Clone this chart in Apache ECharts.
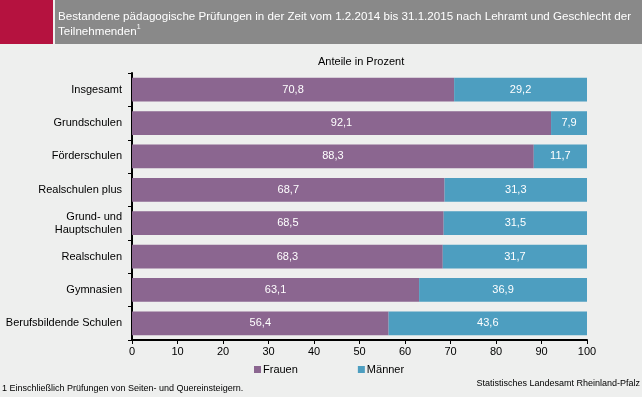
<!DOCTYPE html>
<html>
<head>
<meta charset="utf-8">
<script src="https://cdn.jsdelivr.net/npm/echarts@6/dist/echarts.min.js"></script>
<style>
  html, body { margin: 0; padding: 0; background: #eeefee; }
  #chart { width: 642px; height: 397px; }
</style>
</head>
<body>
<div id="chart"></div>
<script>
const categories = [
  "Insgesamt",
  "Grundschulen",
  "Förderschulen",
  "Realschulen plus",
  "Grund- und\nHauptschulen",
  "Realschulen",
  "Gymnasien",
  "Berufsbildende Schulen"
];
const frauen = [70.8, 92.1, 88.3, 68.7, 68.5, 68.3, 63.1, 56.4];
const maenner = [29.2, 7.9, 11.7, 31.3, 31.5, 31.7, 36.9, 43.6];

const font = "Liberation Sans, Arial, sans-serif";
const chart = echarts.init(document.getElementById("chart"));

const fmt = (p) => p.value.toFixed(1).replace(".", ",");

chart.setOption({
  backgroundColor: "#eeefee",
  animation: false,
  textStyle: { fontFamily: font },
  graphic: [
    { type: "rect", shape: { x: 0, y: 0, width: 642, height: 44 }, style: { fill: "#898989" } },
    { type: "rect", shape: { x: 0, y: 0, width: 53, height: 44 }, style: { fill: "#b5123f" } },
    { type: "rect", shape: { x: 53, y: 0, width: 2, height: 44 }, style: { fill: "#eeefee" } },
    {
      type: "text", left: 58, top: 9,
      style: {
        text: "Bestandene pädagogische Prüfungen in der Zeit vom 1.2.2014 bis 31.1.2015 nach Lehramt und Geschlecht der\nTeilnehmenden{s|1}",
        fill: "#ffffff", font: "11.6px " + font, lineHeight: 15,
        rich: { s: { fontSize: 7, verticalAlign: "top", fill: "#ffffff", padding: [0, 0, 6, 0] } }
      }
    },
    {
      type: "text", left: 318, top: 56,
      style: { text: "Anteile in Prozent", fill: "#000", font: "11px " + font, textAlign: "center" }
    },
    {
      type: "text", left: 2, top: 384,
      style: { text: "1 Einschließlich Prüfungen von Seiten- und Quereinsteigern.", fill: "#000", font: "9px " + font }
    },
    {
      type: "text", right: 2, top: 379,
      style: { text: "Statistisches Landesamt Rheinland-Pfalz", fill: "#000", font: "9px " + font, textAlign: "right" }
    }
  ],
  legend: {
    top: 359, left: 249,
    itemGap: 60,
    itemWidth: 7, itemHeight: 7,
    icon: "rect",
    textStyle: { fontSize: 11, color: "#000", fontFamily: font, padding: [0, 0, 0, -3] },
    data: ["Frauen", "Männer"]
  },
  grid: { left: 132, right: 55, top: 73, bottom: 57, containLabel: false },
  xAxis: {
    type: "value",
    min: 0, max: 100, interval: 10,
    axisLine: { show: true, lineStyle: { color: "#000", width: 2 } },
    axisTick: { show: true, length: 4, lineStyle: { color: "#000" } },
    axisLabel: { color: "#000", fontSize: 11, margin: 6, fontFamily: font },
    splitLine: { show: false }
  },
  yAxis: {
    type: "category",
    inverse: true,
    data: categories,
    axisLine: { show: true, lineStyle: { color: "#000", width: 2 } },
    axisTick: { show: true, length: 4, lineStyle: { color: "#000" } },
    axisLabel: { color: "#000", fontSize: 11, margin: 10, lineHeight: 13, fontFamily: font }
  },
  series: [
    {
      name: "Frauen", type: "bar", stack: "total",
      data: frauen, barCategoryGap: "29%",
      itemStyle: { color: "#8b6690" },
      label: { show: true, position: "inside", color: "#fff", fontSize: 11, fontFamily: font, formatter: fmt }
    },
    {
      name: "Männer", type: "bar", stack: "total",
      data: maenner,
      itemStyle: { color: "#4d9ec0" },
      label: { show: true, position: "inside", color: "#fff", fontSize: 11, fontFamily: font, formatter: fmt }
    }
  ]
});
</script>
</body>
</html>
